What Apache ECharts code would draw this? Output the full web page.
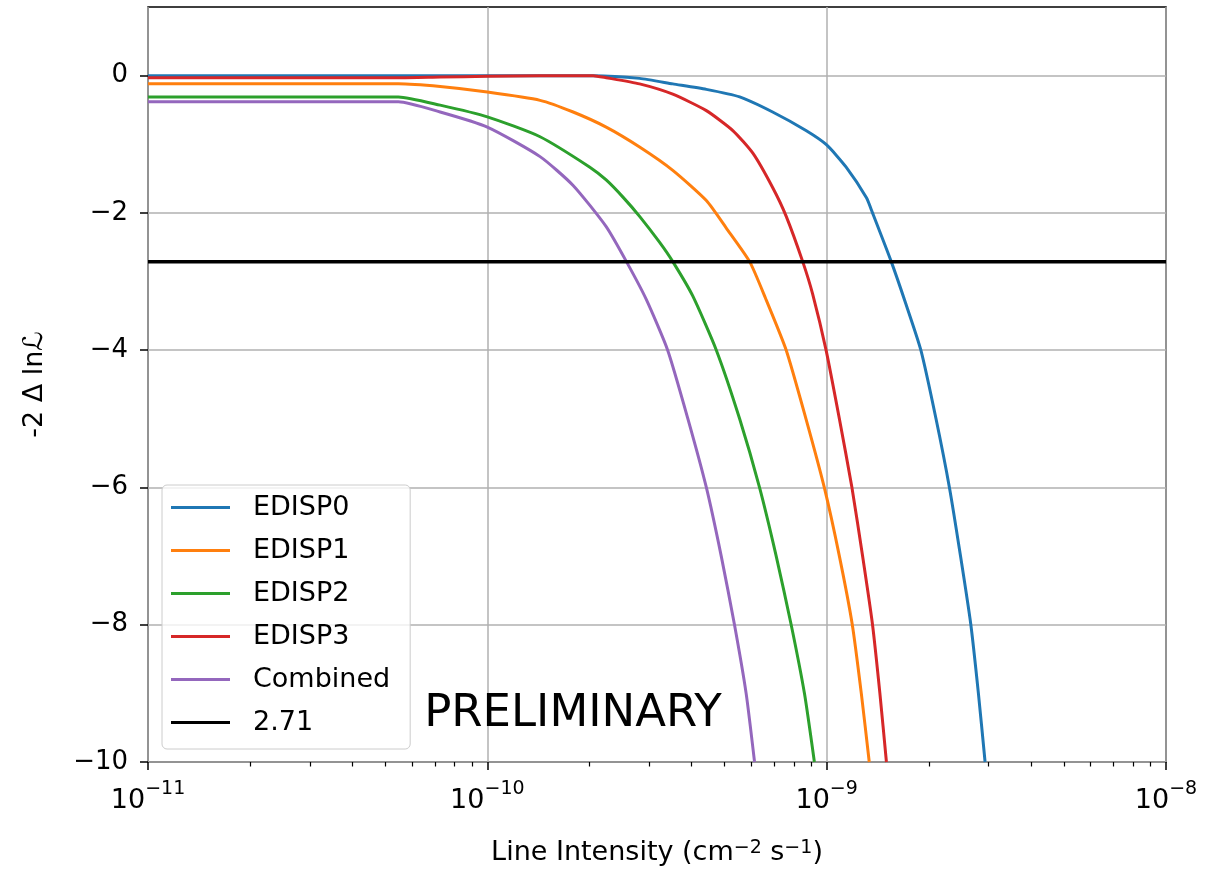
<!DOCTYPE html>
<html>
<head>
<meta charset="utf-8">
<script src="https://cdn.jsdelivr.net/npm/echarts@6/dist/echarts.min.js"></script>
<style>
html, body { margin: 0; padding: 0; background: #ffffff; }
#chart { width: 1220px; height: 871px; }
</style>
</head>
<body>
<div id="chart"></div>
<script>
const FONT = 'DejaVu Sans';

// Line intensity (cm^-2 s^-1) and -2 Δ lnL profile for each event class
const edisp0Flux = [1e-11, 1e-10, 2.05e-10, 2.81e-10, 3.52e-10, 4.42e-10, 5.54e-10, 6.93e-10, 8.69e-10, 1.0e-9, 1.14e-9, 1.31e-9, 1.365e-9, 1.55e-9, 1.71e-9, 1.895e-9, 2.10e-9, 2.30e-9, 2.48e-9, 2.66e-9, 2.80e-9, 2.93e-9];
const edisp0Dll  = [0, 0, 0, -0.04, -0.12, -0.20, -0.31, -0.53, -0.80, -1.01, -1.33, -1.78, -2.0, -2.71, -3.32, -4, -5, -6, -7, -8, -9, -10];

const edisp1Flux = [1e-11, 5.47e-11, 7.26e-11, 1e-10, 1.43e-10, 1.79e-10, 2.24e-10, 2.81e-10, 3.52e-10, 4.42e-10, 5.06e-10, 5.93e-10, 6.60e-10, 7.60e-10, 8.69e-10, 9.84e-10, 1.09e-9, 1.19e-9, 1.265e-9, 1.335e-9];
const edisp1Dll  = [-0.12, -0.12, -0.16, -0.24, -0.36, -0.53, -0.75, -1.04, -1.38, -1.82, -2.22, -2.71, -3.24, -4, -5, -6, -7, -8, -9, -10];

const edisp2Flux = [1e-11, 5.47e-11, 7.26e-11, 1e-10, 1.43e-10, 2.0e-10, 2.24e-10, 2.51e-10, 2.81e-10, 3.22e-10, 3.52e-10, 4.03e-10, 4.73e-10, 5.54e-10, 6.34e-10, 7.10e-10, 7.86e-10, 8.60e-10, 9.20e-10];
const edisp2Dll  = [-0.31, -0.31, -0.43, -0.60, -0.89, -1.33, -1.52, -1.77, -2.05, -2.43, -2.71, -3.21, -4, -5, -6, -7, -8, -9, -10];

const edisp3Flux = [1e-11, 5.47e-11, 7.26e-11, 1e-10, 1.43e-10, 2.05e-10, 2.24e-10, 2.81e-10, 3.52e-10, 4.42e-10, 5.29e-10, 6.06e-10, 6.93e-10, 7.60e-10, 8.50e-10, 9.09e-10, 9.96e-10, 1.09e-9, 1.187e-9, 1.276e-9, 1.365e-9, 1.435e-9, 1.50e-9];
const edisp3Dll  = [-0.03, -0.03, -0.02, -0.01, 0.0, 0.0, -0.03, -0.12, -0.27, -0.51, -0.80, -1.13, -1.63, -2.05, -2.71, -3.18, -4, -5, -6, -7, -8, -9, -10];

const combinedFlux = [1e-11, 5.47e-11, 7.26e-11, 1e-10, 1.43e-10, 1.79e-10, 2.24e-10, 2.57e-10, 2.94e-10, 3.40e-10, 3.90e-10, 4.42e-10, 4.89e-10, 5.35e-10, 5.79e-10, 6.13e-10];
const combinedDll  = [-0.38, -0.38, -0.53, -0.75, -1.18, -1.60, -2.20, -2.71, -3.26, -4, -5, -6, -7, -8, -9, -10];

// Threshold line
const thresholdName = '2.71';
const thresholdValue = -2.71;

const seriesNames = ['EDISP0', 'EDISP1', 'EDISP2', 'EDISP3', 'Combined'];
const seriesColors = ['#1f77b4', '#ff7f0e', '#2ca02c', '#d62728', '#9467bd'];
const seriesFlux = [edisp0Flux, edisp1Flux, edisp2Flux, edisp3Flux, combinedFlux];
const seriesDll = [edisp0Dll, edisp1Dll, edisp2Dll, edisp3Dll, combinedDll];

const xMin = 1e-11, xMax = 1e-8;
const yMin = -10, yMax = 1;
const yTickValues = [-10, -8, -6, -4, -2, 0];

// minor ticks at 2..9 within each decade (in log10 units)
const minorTickLogs = [];
for (let d = -11; d < -8; d++) {
  for (let m = 2; m <= 9; m++) minorTickLogs.push(d + Math.log10(m));
}

const zip = (xs, ys) => xs.map((x, i) => [x, ys[i]]);

const lineSeries = seriesNames.map((name, i) => ({
  name: name,
  type: 'line',
  xAxisIndex: 0,
  data: zip(seriesFlux[i], seriesDll[i]),
  showSymbol: false,
  symbol: 'none',
  smooth: 0.2,
  clip: true,
  color: seriesColors[i],
  lineStyle: { color: seriesColors[i], width: 3, join: 'round' },
  emphasis: { disabled: true },
  z: 3 + i
}));

lineSeries.push({
  name: thresholdName,
  type: 'line',
  xAxisIndex: 0,
  data: [[xMin, thresholdValue], [xMax, thresholdValue]],
  showSymbol: false,
  symbol: 'none',
  color: '#000000',
  lineStyle: { color: '#000000', width: 3.5 },
  emphasis: { disabled: true },
  z: 9
});

const chart = echarts.init(document.getElementById('chart'), null, { renderer: 'canvas' });

chart.setOption({
  animation: false,
  backgroundColor: '#ffffff',
  textStyle: { fontFamily: FONT, color: '#000000' },
  grid: {
    left: 148, right: 54, top: 7, bottom: 106,
    show: true, borderColor: '#000000', borderWidth: 1.5, backgroundColor: 'transparent'
  },
  legend: {
    orient: 'vertical',
    left: 162, top: 485,
    padding: [1, 20, 5, 9],
    itemGap: 0,
    itemWidth: 59,
    itemHeight: 3,
    icon: 'rect',
    selectedMode: false,
    backgroundColor: 'rgba(255,255,255,0.8)',
    borderColor: '#cccccc',
    borderWidth: 1,
    borderRadius: 5,
    textStyle: { fontFamily: FONT, fontSize: 27, color: '#000000', lineHeight: 43, padding: [0, 0, 0, 18] },
    data: seriesNames.concat([thresholdName])
  },
  xAxis: [
    {
      type: 'log',
      logBase: 10,
      min: xMin,
      max: xMax,
      position: 'bottom',
      name: 'Line Intensity (cm{s|−2} s{s|−1})',
      nameLocation: 'middle',
      nameGap: 77,
      nameTextStyle: {
        fontFamily: FONT, fontSize: 27, color: '#000000',
        rich: { s: { fontFamily: FONT, fontSize: 19, verticalAlign: 'top', lineHeight: 19, padding: [0, 0, 8, 0] } }
      },
      axisLine: { show: false, onZero: false },
      axisTick: { show: true, length: 8, lineStyle: { color: '#000000', width: 1.5 } },
      axisLabel: {
        margin: 18,
        formatter: function (v) {
          const e = Math.round(Math.log10(v));
          return '{b|10}{s|' + (e < 0 ? '−' + (-e) : e) + '}';
        },
        rich: {
          b: { fontFamily: FONT, fontSize: 27, color: '#000000', lineHeight: 34, verticalAlign: 'bottom' },
          s: { fontFamily: FONT, fontSize: 19, color: '#000000', lineHeight: 20, verticalAlign: 'top' }
        }
      },
      splitLine: { show: true, lineStyle: { color: '#b0b0b0', width: 1.5 } }
    },
    {
      type: 'value',
      min: -11,
      max: -8,
      position: 'bottom',
      axisLine: { show: false, onZero: false },
      axisLabel: { show: false },
      splitLine: { show: false },
      axisTick: { show: true, customValues: minorTickLogs, length: 4.5, lineStyle: { color: '#000000', width: 1.2 } }
    }
  ],
  yAxis: {
    type: 'value',
    min: yMin,
    max: yMax,
    interval: 2,
    name: '-2 Δ lnℒ',
    nameLocation: 'middle',
    nameRotate: 90,
    nameGap: 100,
    nameTextStyle: { fontFamily: FONT, fontSize: 27, color: '#000000' },
    axisLine: { show: false, onZero: false },
    axisTick: { show: true, length: 8, customValues: yTickValues, lineStyle: { color: '#000000', width: 1.5 } },
    axisLabel: {
      margin: 20,
      customValues: yTickValues,
      fontFamily: FONT, fontSize: 26, color: '#000000',
      formatter: function (v) { return String(v).replace('-', '−'); }
    },
    splitLine: { show: true, lineStyle: { color: '#b0b0b0', width: 1.5 } }
  },
  graphic: [
    {
      type: 'text',
      x: 573,
      y: 714,
      z: 2,
      style: {
        text: 'PRELIMINARY',
        fontFamily: FONT,
        fontSize: 45,
        fill: '#000000',
        align: 'center',
        verticalAlign: 'middle'
      }
    }
  ],
  series: lineSeries
});
</script>
</body>
</html>
